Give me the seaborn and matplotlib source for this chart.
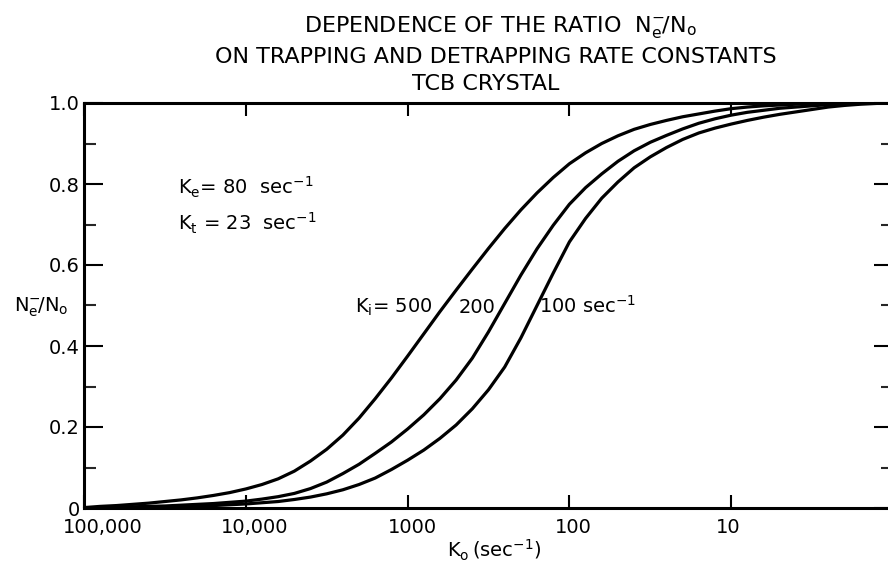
import matplotlib
matplotlib.use("Agg")
import matplotlib.pyplot as plt
import matplotlib.transforms as mtransforms
from matplotlib.ticker import FixedLocator, MultipleLocator, NullLocator
import seaborn as sns
import pandas as pd

# ---- data (K0 in sec^-1, one point every 0.1 decade) ----
k0_values = [100000, 79433, 63096, 50119, 39811, 31623, 25119, 19953, 15849, 12589,
             10000, 7943, 6310, 5012, 3981, 3162, 2512, 1995, 1585, 1259,
             1000, 794.3, 631.0, 501.2, 398.1, 316.2, 251.2, 199.5, 158.5, 125.9,
             100, 79.43, 63.10, 50.12, 39.81, 31.62, 25.12, 19.95, 15.85, 12.59,
             10, 7.943, 6.310, 5.012, 3.981, 3.162, 2.512, 1.995, 1.585, 1.259, 1]
ratio_ki500 = [0.001, 0.004, 0.006, 0.009, 0.012, 0.016, 0.020, 0.025, 0.031, 0.038,
               0.047, 0.058, 0.072, 0.091, 0.116, 0.145, 0.180, 0.222, 0.270, 0.321,
               0.375, 0.430, 0.485, 0.538, 0.590, 0.641, 0.690, 0.736, 0.778, 0.816,
               0.850, 0.877, 0.900, 0.919, 0.935, 0.947, 0.957, 0.966, 0.973, 0.980,
               0.986, 0.990, 0.993, 0.995, 0.997, 0.998, 0.999, 1.0, 1.0, 1.0, 1.0]
ratio_ki200 = [0.0, 0.001, 0.002, 0.003, 0.004, 0.005, 0.007, 0.009, 0.011, 0.014,
               0.017, 0.022, 0.028, 0.036, 0.048, 0.064, 0.085, 0.108, 0.135, 0.163,
               0.195, 0.230, 0.270, 0.316, 0.370, 0.435, 0.505, 0.575, 0.640, 0.698,
               0.750, 0.791, 0.825, 0.856, 0.882, 0.903, 0.920, 0.936, 0.950, 0.961,
               0.970, 0.977, 0.982, 0.987, 0.990, 0.993, 0.996, 0.998, 0.999, 1.0, 1.0]
ratio_ki100 = [0.0, 0.0, 0.001, 0.001, 0.002, 0.002, 0.003, 0.004, 0.006, 0.008,
               0.010, 0.013, 0.016, 0.021, 0.027, 0.035, 0.045, 0.058, 0.074, 0.095,
               0.118, 0.143, 0.172, 0.205, 0.245, 0.292, 0.348, 0.420, 0.500, 0.580,
               0.657, 0.715, 0.765, 0.805, 0.840, 0.867, 0.890, 0.910, 0.926, 0.938,
               0.948, 0.957, 0.965, 0.972, 0.978, 0.984, 0.990, 0.994, 0.997, 0.999, 1.0]
ki_labels = ["500", "200", "100"]

x_ticks = [100000, 10000, 1000, 100, 10]
x_ticklabels = ["100,000", "10,000", "1000", "100", "10"]
y_ticks = [0, 0.2, 0.4, 0.6, 0.8, 1.0]
y_ticklabels = ["0", "0.2", "0.4", "0.6", "0.8", "1.0"]

rows = []
for ki, ys in zip(ki_labels, [ratio_ki500, ratio_ki200, ratio_ki100]):
    for k, r in zip(k0_values, ys):
        rows.append({"K0": k, "ratio": r, "Ki": ki})
df = pd.DataFrame(rows)

# ---- style ----
sns.set_style("ticks")
plt.rcParams["font.family"] = ["DejaVu Sans"]
plt.rcParams["mathtext.fontset"] = "dejavusans"
plt.rcParams["text.color"] = "black"
plt.rcParams["axes.labelcolor"] = "black"

W, H = 888, 564
fig = plt.figure(figsize=(W / 100, H / 100), dpi=100)
L, R, B, T = 84, 893, 508, 103
ax = fig.add_axes([L / W, (H - B) / H, (R - L) / W, (B - T) / H])

sns.lineplot(data=df, x="K0", y="ratio", hue="Ki", hue_order=ki_labels,
             palette=["black"] * 3, estimator=None, legend=False,
             linewidth=2.3, ax=ax)

ax.set_xscale("log")
ax.set_xlim(100000, 1)
ax.set_ylim(0, 1)

ax.xaxis.set_major_locator(FixedLocator(x_ticks))
ax.xaxis.set_minor_locator(NullLocator())
ax.set_xticklabels(x_ticklabels)
ax.yaxis.set_major_locator(FixedLocator(y_ticks))
ax.set_yticklabels(y_ticklabels)
ax.yaxis.set_minor_locator(MultipleLocator(0.1))

for sp in ax.spines.values():
    sp.set_linewidth(2.2)
    sp.set_color("black")

ax.tick_params(axis="x", which="major", direction="in", length=9.5, width=1.5,
               top=True, bottom=True, labelsize=14, pad=7, colors="black")
ax.tick_params(axis="y", which="major", direction="in", length=14, width=1.5,
               left=True, right=True, labelsize=14, pad=3, colors="black")
ax.tick_params(axis="y", which="minor", direction="in", length=8.5, width=1.5,
               left=True, right=True)

# nudge x tick labels the way they sit in the reference
offsets_px = [19, 9, 5, 4, -3]
for lab, dx in zip(ax.get_xticklabels(), offsets_px):
    lab.set_transform(lab.get_transform() +
                      mtransforms.ScaledTranslation(dx / 100, 0, fig.dpi_scale_trans))

ax.set_xlabel(r"$\mathrm{K_o\,(sec^{-1})}$", fontsize=14)
ax.xaxis.set_label_coords((494 - L) / (R - L), (B - 550) / (B - T))
ax.xaxis.label.set_va("center")
ax.set_ylabel(r"$\mathrm{N_e^{-}\!/N_o}$", fontsize=14, rotation=0)
ax.yaxis.set_label_coords((41 - L) / (R - L), (B - 307) / (B - T))
ax.yaxis.label.set_ha("center")
ax.yaxis.label.set_va("center")

def axfrac(px, py):
    return ((px - L) / (R - L), (B - py) / (B - T))

ax.text(*axfrac(178, 194), r"$\mathrm{K_e}$= 80  sec$^{-1}$", fontsize=14,
        transform=ax.transAxes, ha="left", va="baseline")
ax.text(*axfrac(178, 231), r"$\mathrm{K_t}$ = 23  sec$^{-1}$", fontsize=14,
        transform=ax.transAxes, ha="left", va="baseline")
ax.text(*axfrac(355, 313), r"$\mathrm{K_i}$= 500", fontsize=14,
        transform=ax.transAxes, ha="left", va="baseline")
ax.text(*axfrac(459, 313), "200", fontsize=14,
        transform=ax.transAxes, ha="left", va="baseline")
ax.text(*axfrac(539, 313), r"100 sec$^{-1}$", fontsize=14,
        transform=ax.transAxes, ha="left", va="baseline")

fig.text(500 / W, 1 - 27 / H, r"DEPENDENCE OF THE RATIO  $\mathrm{N_e^{-}\!/N_o}$",
         fontsize=16, ha="center", va="center")
fig.text(496 / W, 1 - 57 / H, "ON TRAPPING AND DETRAPPING RATE CONSTANTS",
         fontsize=16, ha="center", va="center")
fig.text(486 / W, 1 - 84 / H, "TCB CRYSTAL", fontsize=16, ha="center", va="center")

fig.savefig("out.png", dpi=100)
